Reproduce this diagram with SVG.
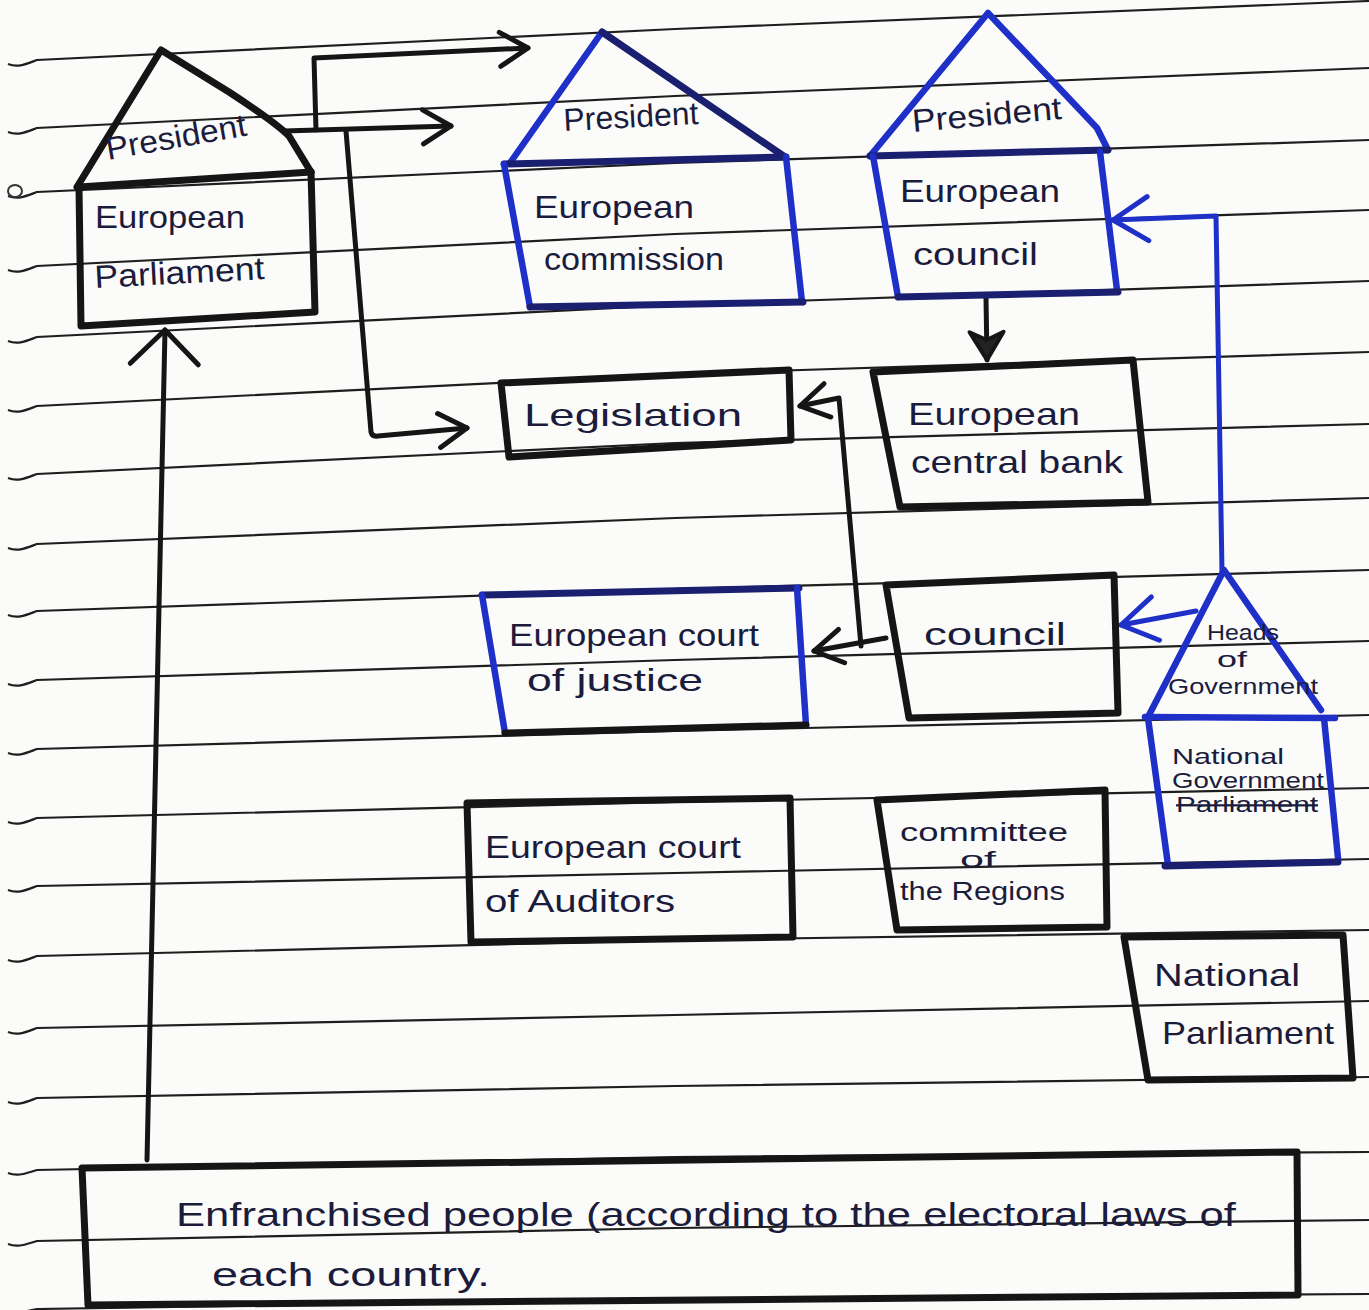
<svg xmlns="http://www.w3.org/2000/svg" width="1369" height="1310" viewBox="0 0 1369 1310">
<defs>
<style>
.rule{stroke:#1e1e1e;stroke-width:2.2;fill:none}
.blk{stroke:#151515;stroke-width:7;fill:none;stroke-linejoin:round;stroke-linecap:round}
.nav{stroke:#1a1f70;stroke-width:7;fill:none;stroke-linecap:round}
.blu{stroke:#1f30c8;stroke-width:6.5;fill:none;stroke-linejoin:round;stroke-linecap:round}
.conn{stroke:#151515;stroke-width:5;fill:none;stroke-linejoin:round;stroke-linecap:round}
.connb{stroke:#1f30c8;stroke-width:5;fill:none;stroke-linejoin:round;stroke-linecap:round}
.t{font-family:"Liberation Sans",Arial,sans-serif;font-size:32px;fill:#1b1b3c}
.s{font-size:22px}
</style>
<marker id="chev" viewBox="0 0 40 40" refX="36" refY="20" markerWidth="40" markerHeight="40" markerUnits="userSpaceOnUse" orient="auto">
<path d="M8,3 L36,20 L8,37" fill="none" stroke="#151515" stroke-width="5" stroke-linecap="round" stroke-linejoin="round"/>
</marker>
<marker id="chevF" viewBox="0 0 40 40" refX="36" refY="20" markerWidth="40" markerHeight="40" markerUnits="userSpaceOnUse" orient="auto">
<path d="M8,3 L36,20 L8,37 L16,20 Z" fill="#222" stroke="#151515" stroke-width="4" stroke-linecap="round" stroke-linejoin="round"/>
</marker>
<marker id="chevB" viewBox="0 0 50 50" refX="45" refY="25" markerWidth="50" markerHeight="50" markerUnits="userSpaceOnUse" orient="auto">
<path d="M10,3 L45,25 L10,47" fill="none" stroke="#1f30c8" stroke-width="5" stroke-linecap="round" stroke-linejoin="round"/>
</marker>
<marker id="chevL" viewBox="0 0 50 80" refX="44" refY="40" markerWidth="50" markerHeight="80" markerUnits="userSpaceOnUse" orient="auto">
<path d="M10,6 L44,40 L10,74" fill="none" stroke="#151515" stroke-width="5" stroke-linecap="round" stroke-linejoin="round"/>
</marker>
</defs>
<rect width="1369" height="1310" fill="#fbfbfa"/>
<g id="paper-lines">
<path class="rule" d="M8,64 C18,68 26,64 37,60 L675,29 L1369,1"/>
<path class="rule" d="M8,132 C18,136 26,132 37,128 L675,96 L1369,68"/>
<path class="rule" d="M8,196 C18,200 26,196 37,192 L675,163 L1369,140"/>
<path class="rule" d="M8,270 C18,274 26,270 37,266 L675,234 L1369,210"/>
<path class="rule" d="M8,341 C18,345 26,341 37,337 L675,305 L1369,281"/>
<path class="rule" d="M8,410 C18,414 26,410 37,406 L675,374 L1369,352"/>
<path class="rule" d="M8,478 C18,482 26,478 37,474 L675,443 L1369,424"/>
<path class="rule" d="M8,548 C18,552 26,548 37,544 L675,518 L1369,498"/>
<path class="rule" d="M8,615 C18,619 26,615 37,611 L675,589 L1369,570"/>
<path class="rule" d="M8,684 C18,688 26,684 37,680 L675,660 L1369,641"/>
<path class="rule" d="M8,753 C18,757 26,753 37,749 L675,731 L1369,715"/>
<path class="rule" d="M8,822 C18,826 26,822 37,818 L675,802 L1369,788"/>
<path class="rule" d="M8,890 C18,894 26,890 37,886 L675,873 L1369,859"/>
<path class="rule" d="M8,960 C18,964 26,960 37,956 L675,940 L1369,930"/>
<path class="rule" d="M8,1032 C18,1036 26,1032 37,1028 L675,1015 L1369,1001"/>
<path class="rule" d="M8,1102 C18,1106 26,1102 37,1098 L675,1086 L1369,1077"/>
<path class="rule" d="M8,1173 C18,1177 26,1173 37,1170 L675,1157 L1369,1152"/>
<path class="rule" d="M8,1244 C18,1248 26,1244 37,1241 L675,1228 L1369,1220"/>
<path class="rule" d="M8,1311 C18,1314 26,1311 37,1309 L675,1299 L1369,1294"/>
<ellipse cx="15" cy="191" rx="7" ry="6" fill="none" stroke="#333" stroke-width="2"/>
</g>
<g id="connectors">
<path class="conn" d="M284,131 L451,126" marker-end="url(#chev)"/>
<path class="conn" d="M316,130 L314,58 L528,48" marker-end="url(#chev)"/>
<path class="conn" d="M346,131 L371,432 Q372,437 378,436 L467,428" marker-end="url(#chev)"/>
<path class="conn" d="M986,298 L987,360" marker-end="url(#chevF)"/>
<path class="conn" d="M886,638 L814,651" marker-end="url(#chev)"/>
<path class="conn" d="M861,646 L839,398 L800,406" marker-end="url(#chev)"/>
<path class="connb" d="M1222,572 L1216,216 L1113,220" marker-end="url(#chevB)"/>
<path class="connb" d="M1196,611 L1121,625" marker-end="url(#chevB)"/>
<path class="conn" d="M147,1160 L165,330" marker-end="url(#chevL)"/>
</g>
<g id="european-parliament">
<path class="blk" d="M77,187 L161,50 L229,92 Q275,122 289,136 L311,172" stroke-width="6"/>
<path class="blk" d="M79,187 L311,172" stroke-width="8"/>
<path class="blk" d="M79,187 L81,326 L315,312 L311,172"/>
<text class="t" x="108" y="160" textLength="142" lengthAdjust="spacingAndGlyphs" transform="rotate(-10 108 160)">President</text>
<text class="t" x="95" y="228" textLength="150" lengthAdjust="spacingAndGlyphs">European</text>
<text class="t" x="95" y="288" textLength="170" lengthAdjust="spacingAndGlyphs" transform="rotate(-3 95 288)">Parliament</text>
</g>
<g id="european-commission">
<path class="blu" d="M510,163 L602,32"/>
<path class="nav" d="M602,32 L785,157" stroke-width="6"/>
<path class="nav" d="M504,164 L786,157"/>
<path class="blu" d="M504,164 L530,307"/>
<path class="blu" d="M786,157 L802,302"/>
<path class="nav" d="M530,307 L803,302"/>
<text class="t" x="564" y="131" textLength="135" lengthAdjust="spacingAndGlyphs" transform="rotate(-3 564 131)">President</text>
<text class="t" x="534" y="218" textLength="160" lengthAdjust="spacingAndGlyphs">European</text>
<text class="t" x="544" y="270" textLength="180" lengthAdjust="spacingAndGlyphs">commission</text>
</g>
<g id="european-council">
<path class="blu" d="M870,156 L988,13 L1097,128 L1108,150"/>
<path class="nav" d="M870,156 L1108,150"/>
<path class="blu" d="M873,156 L898,297"/>
<path class="blu" d="M1100,152 L1117,290"/>
<path class="nav" d="M898,297 L1118,292"/>
<text class="t" x="913" y="132" textLength="150" lengthAdjust="spacingAndGlyphs" transform="rotate(-5 913 132)">President</text>
<text class="t" x="900" y="202" textLength="160" lengthAdjust="spacingAndGlyphs">European</text>
<text class="t" x="913" y="265" textLength="125" lengthAdjust="spacingAndGlyphs">council</text>
</g>
<g id="legislation">
<path class="blk" d="M501,383 L789,370 L791,440 L509,457 Z"/>
<text class="t" x="524" y="426" textLength="218" lengthAdjust="spacingAndGlyphs">Legislation</text>
</g>
<g id="european-central-bank">
<path class="blk" d="M873,372 L1133,360 L1148,502 L900,507 Z"/>
<text class="t" x="908" y="425" textLength="172" lengthAdjust="spacingAndGlyphs">European</text>
<text class="t" x="911" y="473" textLength="212" lengthAdjust="spacingAndGlyphs">central bank</text>
</g>
<g id="european-court-of-justice">
<path class="nav" d="M482,595 L799,588"/>
<path class="blu" d="M482,595 L505,733"/>
<path class="blu" d="M797,588 L806,725"/>
<path class="blk" d="M505,733 L806,725"/>
<text class="t" x="509" y="646" textLength="250" lengthAdjust="spacingAndGlyphs">European court</text>
<text class="t" x="527" y="691" textLength="176" lengthAdjust="spacingAndGlyphs">of justice</text>
</g>
<g id="council">
<path class="blk" d="M886,585 L1114,575 L1118,713 L909,718 Z"/>
<text class="t" x="924" y="645" textLength="142" lengthAdjust="spacingAndGlyphs">council</text>
</g>
<g id="heads-of-government">
<path class="blu" d="M1148,717 L1224,570 L1321,710"/>
<path class="blu" d="M1145,717 L1335,718"/>
<path class="blu" d="M1148,718 L1168,865"/>
<path class="blu" d="M1324,718 L1338,858"/>
<path class="nav" d="M1165,866 L1338,862"/>
<text class="t s" x="1207" y="640" textLength="72" lengthAdjust="spacingAndGlyphs">Heads</text>
<text class="t s" x="1217" y="667" textLength="30" lengthAdjust="spacingAndGlyphs">of</text>
<text class="t s" x="1168" y="694" textLength="150" lengthAdjust="spacingAndGlyphs">Government</text>
<text class="t s" x="1172" y="764" textLength="112" lengthAdjust="spacingAndGlyphs">National</text>
<text class="t s" x="1172" y="788" textLength="152" lengthAdjust="spacingAndGlyphs">Government</text>
<text class="t s" x="1176" y="812" textLength="142" lengthAdjust="spacingAndGlyphs" text-decoration="line-through">Parliament</text>
</g>
<g id="european-court-of-auditors">
<path class="blk" d="M467,803 L790,798 L793,937 L471,942 Z"/>
<text class="t" x="485" y="858" textLength="256" lengthAdjust="spacingAndGlyphs">European court</text>
<text class="t" x="485" y="912" textLength="190" lengthAdjust="spacingAndGlyphs">of Auditors</text>
</g>
<g id="committee-of-the-regions">
<path class="blk" d="M877,800 L1105,790 L1107,927 L897,930 Z"/>
<text class="t" x="900" y="841" textLength="168" lengthAdjust="spacingAndGlyphs" style="font-size:26px">committee</text>
<text class="t s" x="960" y="867" textLength="36" lengthAdjust="spacingAndGlyphs">of</text>
<text class="t" x="900" y="900" textLength="165" lengthAdjust="spacingAndGlyphs" style="font-size:26px">the Regions</text>
</g>
<g id="national-parliament">
<path class="blk" d="M1124,937 L1343,935 L1353,1078 L1148,1080 Z"/>
<text class="t" x="1154" y="986" textLength="146" lengthAdjust="spacingAndGlyphs">National</text>
<text class="t" x="1162" y="1044" textLength="172" lengthAdjust="spacingAndGlyphs">Parliament</text>
</g>
<g id="enfranchised-people">
<path class="blk" d="M82,1168 L1297,1152 L1298,1295 L88,1305 Z" stroke-width="8"/>
<text class="t" x="176" y="1226" textLength="1060" lengthAdjust="spacingAndGlyphs" style="font-size:34px">Enfranchised people (according to the electoral laws of</text>
<text class="t" x="212" y="1286" textLength="278" lengthAdjust="spacingAndGlyphs" style="font-size:34px">each country.</text>
</g>
</svg>
